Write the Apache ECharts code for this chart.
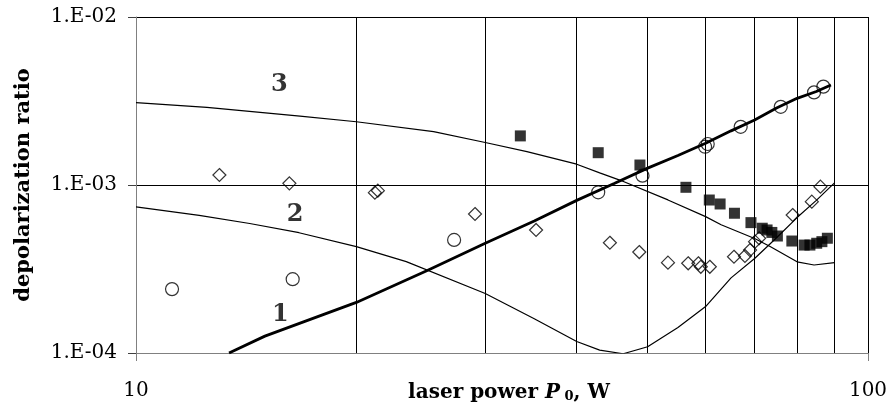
<!DOCTYPE html>
<html>
<head>
<meta charset="utf-8">
<script src="https://cdn.jsdelivr.net/npm/echarts@6/dist/echarts.min.js"></script>
<style>
  html, body { margin: 0; padding: 0; background: #fff; }
  #chart { width: 888px; height: 408px; }
</style>
</head>
<body>
<div id="chart"></div>
<script>
// tick labels
var xTickLabels = ['10', '100'];
var yTickLabels = ['1.E-04', '1.E-03', '1.E-02'];
var xGridValues = [20, 30, 40, 50, 60, 70, 80, 90];

// calculated curves [P0, ratio]
var curve1 = [[13.4, 1.0e-4], [15, 1.26e-4], [20, 2.0e-4], [25, 3.1e-4], [30, 4.5e-4], [35, 6.1e-4],
  [40, 8.1e-4], [45, 1.02e-3], [50, 1.26e-3], [55, 1.5e-3], [60, 1.77e-3], [65, 2.1e-3],
  [70, 2.44e-3], [75, 2.87e-3], [80, 3.28e-3], [85, 3.6e-3], [89, 3.94e-3]];
var curve2 = [[10, 7.4e-4], [12.2, 6.6e-4], [14.3, 5.9e-4], [16.7, 5.2e-4], [20, 4.3e-4],
  [23.4, 3.5e-4], [30, 2.26e-4], [35, 1.6e-4], [40, 1.17e-4], [43, 1.04e-4], [46.3, 0.99e-4],
  [50, 1.09e-4], [55, 1.42e-4], [60, 1.89e-4], [65, 2.8e-4], [70, 3.65e-4], [75, 4.85e-4],
  [80, 6.4e-4], [85, 8.1e-4], [90, 1.03e-3]];
var curve3 = [[10, 3.09e-3], [12.5, 2.9e-3], [16.75, 2.57e-3], [20, 2.38e-3], [25.5, 2.08e-3],
  [30, 1.79e-3], [34.2, 1.58e-3], [40, 1.33e-3], [43, 1.18e-3], [45.8, 1.07e-3], [53.3, 8.15e-4],
  [60, 6.48e-4], [63, 5.8e-4], [70, 4.8e-4], [73.5, 4.3e-4], [80, 3.49e-4], [84.4, 3.34e-4], [90, 3.45e-4]];

// measured points
var circles = [[11.2, 2.4e-4], [16.37, 2.75e-4], [27.2, 4.71e-4], [42.8, 9.05e-4], [49.2, 1.136e-3],
  [59.9, 1.69e-3], [60.4, 1.754e-3], [67.0, 2.22e-3], [76.0, 2.92e-3], [84.4, 3.56e-3], [86.9, 3.85e-3]];
var squares = [[33.5, 1.96e-3], [42.8, 1.557e-3], [48.8, 1.315e-3], [56.4, 9.69e-4], [60.7, 8.14e-4],
  [62.8, 7.71e-4], [65.7, 6.79e-4], [69.2, 5.97e-4], [71.7, 5.53e-4], [72.8, 5.4e-4], [73.9, 5.22e-4],
  [75.2, 4.97e-4], [78.7, 4.64e-4], [81.8, 4.39e-4], [83.3, 4.39e-4], [85.1, 4.5e-4], [86.5, 4.6e-4],
  [88.0, 4.82e-4]];
var diamonds = [[13.0, 1.147e-3], [16.2, 1.023e-3], [21.2, 9.0e-4], [21.4, 9.25e-4], [29.05, 6.72e-4],
  [35.2, 5.4e-4], [44.4, 4.53e-4], [48.7, 3.99e-4], [53.3, 3.45e-4], [56.8, 3.42e-4], [58.65, 3.42e-4],
  [59.1, 3.26e-4], [60.8, 3.26e-4], [65.6, 3.74e-4], [67.9, 3.78e-4], [69.0, 4.1e-4], [70.1, 4.6e-4],
  [71.0, 4.82e-4], [78.9, 6.63e-4], [83.8, 7.96e-4], [86.1, 9.77e-4]];

// curve numbers
var curveNames = ['3', '2', '1'];
var curveNameAt = [[15.7, 3.94e-3], [16.5, 6.63e-4], [15.75, 1.68e-4]];

var FONT = 'DejaVu Serif';
var chart = echarts.init(document.getElementById('chart'));

var option = {
  animation: false,
  backgroundColor: '#fff',
  grid: { left: 136, right: 20, top: 17, bottom: 55, outerBoundsMode: 'none' },
  xAxis: {
    type: 'log',
    logBase: 10,
    min: 10,
    max: 100,
    name: '{n|laser power }{i|P}{s| 0}{n|, W}',
    nameLocation: 'middle',
    nameGap: 30,
    nameMoveOverlap: false,
    nameTextStyle: {
      padding: [0, 0, 0, 14],
      rich: {
        n: { fontFamily: FONT, fontWeight: 'bold', fontSize: 20, color: '#000' },
        i: { fontFamily: FONT, fontWeight: 'bold', fontStyle: 'italic', fontSize: 20, color: '#000' },
        s: { fontFamily: FONT, fontWeight: 'bold', fontSize: 13, color: '#000', verticalAlign: 'bottom', padding: [7, 0, 0, 0] }
      }
    },
    axisLine: { show: true, lineStyle: { color: '#808080', width: 1 } },
    axisTick: { show: true, length: 8, lineStyle: { color: '#808080' } },
    axisLabel: {
      margin: 28, fontSize: 20, fontFamily: FONT, color: '#000',
      formatter: function (v) { return xTickLabels[Math.round(Math.log10(v)) - 1]; }
    },
    splitLine: { show: true, lineStyle: { color: '#000', width: 1 } },
    minorTick: { show: false }
  },
  yAxis: {
    type: 'log',
    logBase: 10,
    min: 1e-4,
    max: 1e-2,
    name: 'depolarization ratio',
    nameLocation: 'middle',
    nameGap: 102,
    nameMoveOverlap: false,
    nameTextStyle: { fontFamily: FONT, fontWeight: 'bold', fontSize: 21, color: '#000' },
    axisLine: { show: true, lineStyle: { color: '#808080', width: 1 } },
    axisTick: { show: true, length: 8, lineStyle: { color: '#404040' } },
    axisLabel: {
      margin: 19, fontSize: 20, fontFamily: FONT, color: '#000',
      formatter: function (v) { return yTickLabels[Math.round(Math.log10(v)) + 4]; }
    },
    splitLine: { show: true, lineStyle: { color: '#000', width: 1 } }
  },
  series: [
    {
      type: 'line', data: curve2, showSymbol: false, z: 3,
      lineStyle: { color: '#000', width: 1.2 },
      markLine: {
        silent: true, symbol: 'none', label: { show: false },
        lineStyle: { color: '#000', width: 1, type: 'solid' },
        data: xGridValues.map(function (v) { return { xAxis: v }; })
      }
    },
    { type: 'line', data: curve3, showSymbol: false, z: 3, lineStyle: { color: '#000', width: 1.2 } },
    { type: 'line', data: curve1, showSymbol: false, z: 3, lineStyle: { color: '#000', width: 2.8 } },
    {
      type: 'scatter', data: circles, symbol: 'circle', symbolSize: 13, z: 4,
      itemStyle: { color: 'rgba(0,0,0,0)', borderColor: '#000', borderWidth: 1.2 }
    },
    {
      type: 'scatter', data: diamonds, symbol: 'diamond', symbolSize: 13, z: 4,
      itemStyle: { color: 'rgba(0,0,0,0)', borderColor: '#000', borderWidth: 1.2 }
    },
    {
      type: 'scatter', data: squares, symbol: 'rect', symbolSize: 11, z: 4,
      itemStyle: { color: '#000' }
    },
    {
      type: 'scatter', symbolSize: 1, z: 5, silent: true,
      itemStyle: { color: 'rgba(0,0,0,0)' },
      label: {
        show: true, position: 'inside', formatter: '{b}',
        fontFamily: FONT, fontWeight: 'bold', fontSize: 24, color: '#000'
      },
      data: curveNames.map(function (n, i) { return { name: n, value: curveNameAt[i] }; })
    }
  ]
};

chart.setOption(option);
</script>
</body>
</html>
